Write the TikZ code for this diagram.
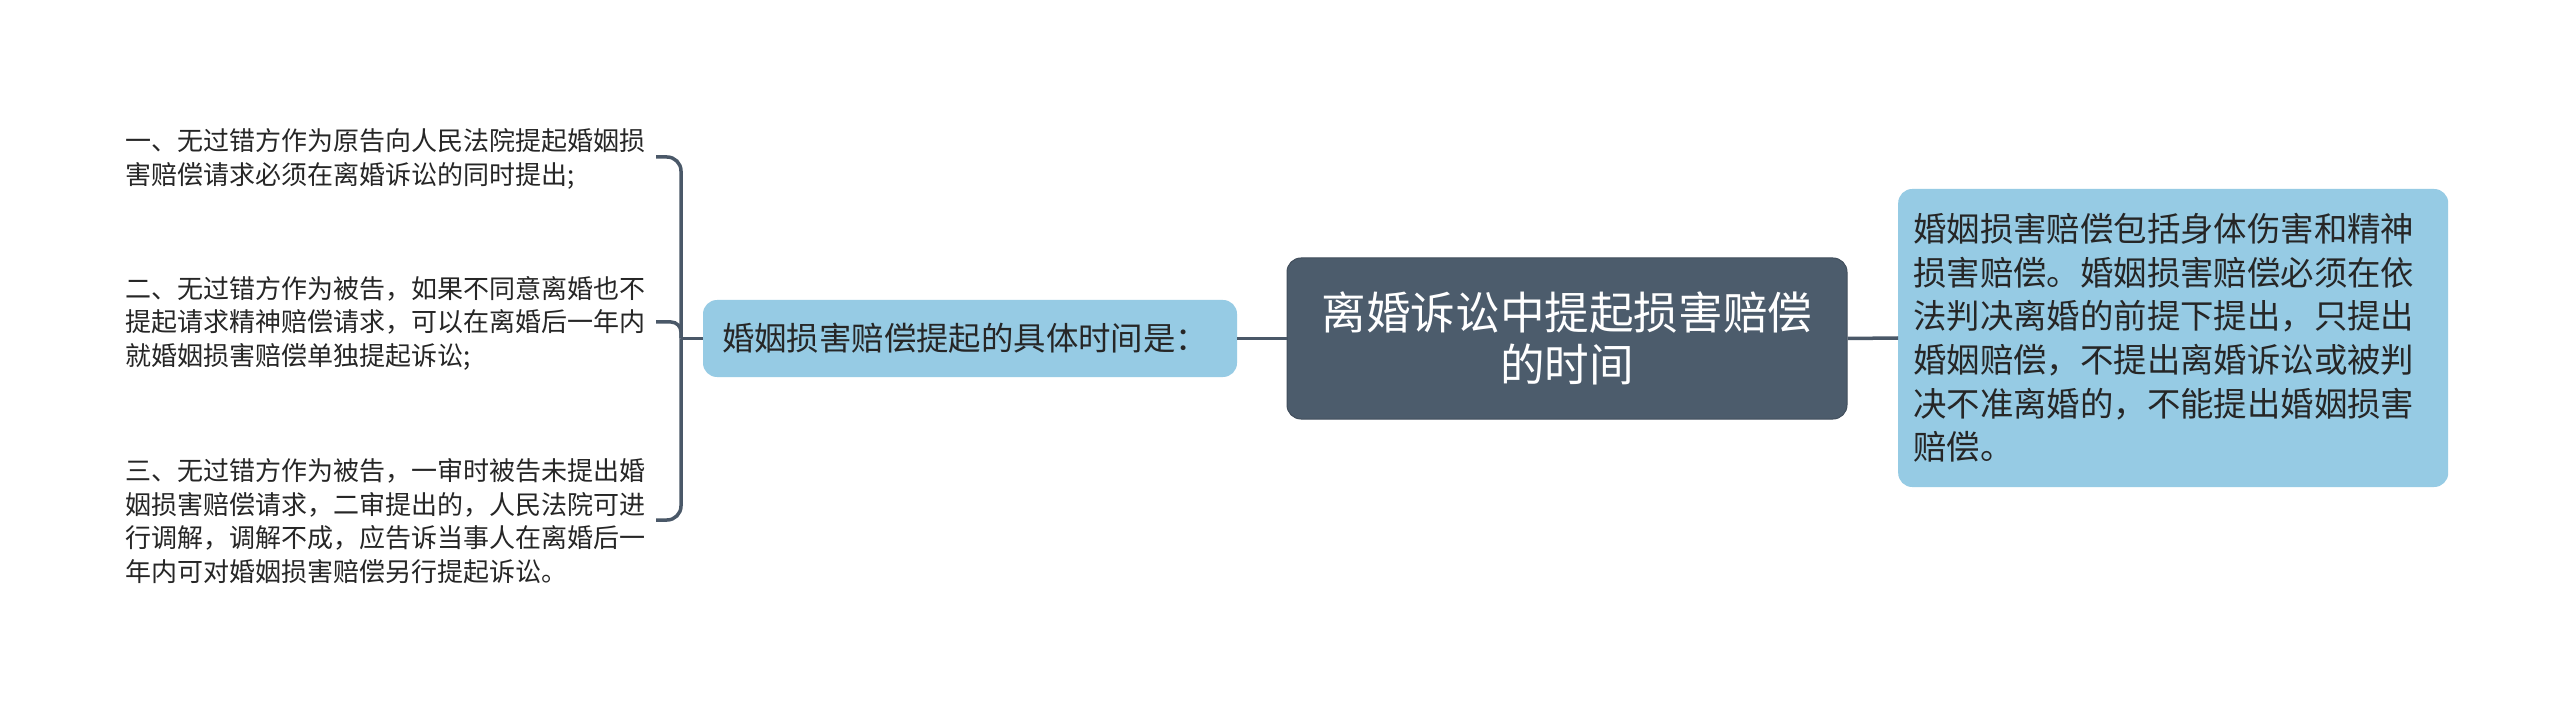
\documentclass[tikz,border=0pt]{standalone}
\usepackage{fontspec}
\setmainfont{Noto Sans CJK SC}
\definecolor{dk}{HTML}{4C5C6C}
\definecolor{lb}{HTML}{96CBE4}
\definecolor{ln}{HTML}{4A5868}
\definecolor{tx}{HTML}{262626}
\tikzset{
  rootbox/.style={fill=dk, draw=dk!85!black, line width=1pt, rounded corners=14pt, text=white,
    minimum width=560pt, minimum height=161pt, align=center, inner sep=0pt,
    font={\fontsize{44.6pt}{52pt}\selectfont}},
  subbox/.style={fill=lb, draw=none, rounded corners=14pt, text=tx, inner sep=0pt},
  leafnode/.style={anchor=west, align=left, inner sep=0pt, text=tx,
    font={\fontsize{26pt}{33.5pt}\selectfont}},
  conn/.style={draw=ln, line width=3.5pt},
}
\begin{document}
\begin{tikzpicture}[x=1pt,y=-1pt]
\fill[white] (0,0) rectangle (2560,711);
\useasboundingbox (0,0) rectangle (2560,711);

\node[rootbox] (root) at (1567,338.5) {离婚诉讼中提起损害赔偿\\的时间};

\node[subbox, minimum width=534pt, minimum height=77pt, text width=496pt, inner xsep=19pt, align=left,
  font={\fontsize{32.4pt}{40pt}\selectfont}] (mid) at (970,338.5) {婚姻损害赔偿提起的具体时间是：};

\node[subbox, anchor=west, text width=520pt, inner xsep=15pt, minimum height=298pt, align=left,
  font={\fontsize{33.4pt}{43.6pt}\selectfont}] (rt) at (1898,338) {婚姻损害赔偿包括身体伤害和精神\\损害赔偿。婚姻损害赔偿必须在依\\法判决离婚的前提下提出，只提出\\婚姻赔偿，不提出离婚诉讼或被判\\决不准离婚的，不能提出婚姻损害\\赔偿。};

\node[leafnode] (l1) at (125,159) {一、无过错方作为原告向人民法院提起婚姻损\\害赔偿请求必须在离婚诉讼的同时提出;};
\node[leafnode] (l2) at (125,323) {二、无过错方作为被告，如果不同意离婚也不\\提起请求精神赔偿请求，可以在离婚后一年内\\就婚姻损害赔偿单独提起诉讼;};
\node[leafnode] (l3) at (125,521) {三、无过错方作为被告，一审时被告未提出婚\\姻损害赔偿请求，二审提出的，人民法院可进\\行调解，调解不成，应告诉当事人在离婚后一\\年内可对婚姻损害赔偿另行提起诉讼。};

\coordinate (jn) at (681,338.5);
\coordinate (t1) at (656,157);
\coordinate (t2) at (656,322);
\coordinate (t3) at (656,520);

\draw[conn] (root.west) -- (mid.east);
\draw[conn] (root.east) -- (rt.west);
\draw[conn] (mid.west) -- (jn);
\draw[conn, rounded corners=14pt] (jn) |- (t1);
\draw[conn, rounded corners=10pt] (jn) |- (t2);
\draw[conn, rounded corners=14pt] (jn) |- (t3);
\end{tikzpicture}
\end{document}
